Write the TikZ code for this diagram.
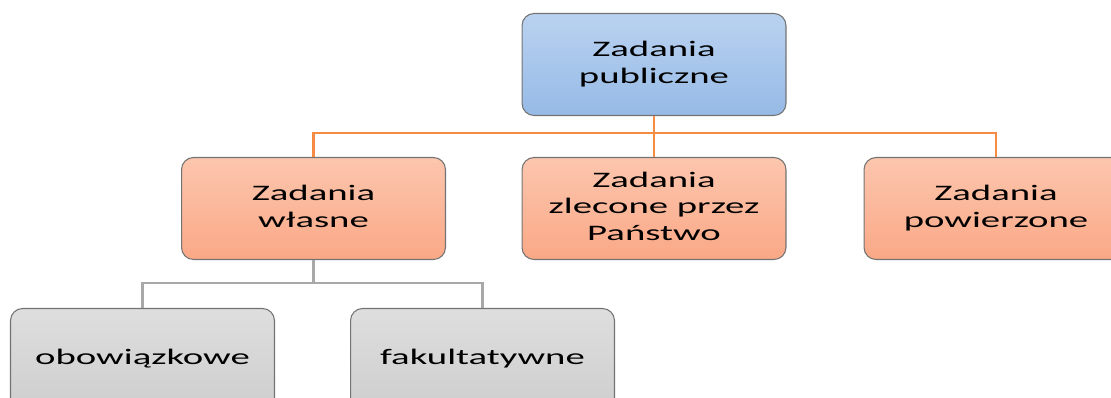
\documentclass[tikz,border=0pt]{standalone}
\usepackage{graphicx}
\usepackage{fontspec}
\setmainfont{Carlito}
\usetikzlibrary{positioning}
\definecolor{blueTop}{RGB}{186,210,240}
\definecolor{blueBot}{RGB}{150,186,230}
\definecolor{orTop}{RGB}{252,198,174}
\definecolor{orBot}{RGB}{250,168,134}
\definecolor{grTop}{RGB}{222,222,222}
\definecolor{grBot}{RGB}{206,206,206}
\definecolor{orLine}{RGB}{246,140,68}
\definecolor{grLine}{RGB}{168,168,168}
\newcommand{\widetext}[1]{\scalebox{1.75}[1]{\begin{tabular}{@{}c@{}}#1\end{tabular}}}
\tikzset{
  box/.style={draw=black!55, line width=0.6pt, rounded corners=0.24cm,
    minimum width=5.28cm, minimum height=2.04cm, inner sep=0pt,
    font=\fontsize{12.6}{15.3}\selectfont, text=black},
  bluebox/.style={box, top color=blueTop, bottom color=blueBot},
  orbox/.style={box, top color=orTop, bottom color=orBot},
  grbox/.style={box, top color=grTop, bottom color=grBot},
  orlink/.style={draw=orLine, line width=1.2pt},
  grlink/.style={draw=grLine, line width=1.2pt}
}

\begin{document}
\begin{tikzpicture}[x=0.02cm,y=-0.02cm]
    \useasboundingbox (0,0) rectangle (1111,397);
    \clip (0,0) rectangle (1111,397);
    % top level
    \node[bluebox] (pub) at (654,64.5) {\widetext{Zadania\\publiczne}};
    % second level
    \node[orbox] (wl) at (313.5,208.5) {\widetext{Zadania\\własne}};
    \node[orbox] (zl) at (654,208.5) {\widetext{Zadania\\zlecone przez\\Państwo}};
    \node[orbox] (pw) at (996,208.5) {\widetext{Zadania\\powierzone}};
    % third level
    \node[grbox] (ob) at (142.5,359.5) {\widetext{obowiązkowe}};
    \node[grbox] (fk) at (482.5,359.5) {\widetext{fakultatywne}};
    % connectors
    \coordinate (bus) at (654,133);
    \coordinate (bus2) at (313.5,283);
    \draw[orlink] (pub) -- (bus);
    \draw[orlink] (bus) -| (wl);
    \draw[orlink] (bus) -- (zl);
    \draw[orlink] (bus) -| (pw);
    \draw[grlink] (wl) -- (bus2);
    \draw[grlink] (bus2) -| (ob);
    \draw[grlink] (bus2) -| (fk);
  \end{tikzpicture}
\end{document}
